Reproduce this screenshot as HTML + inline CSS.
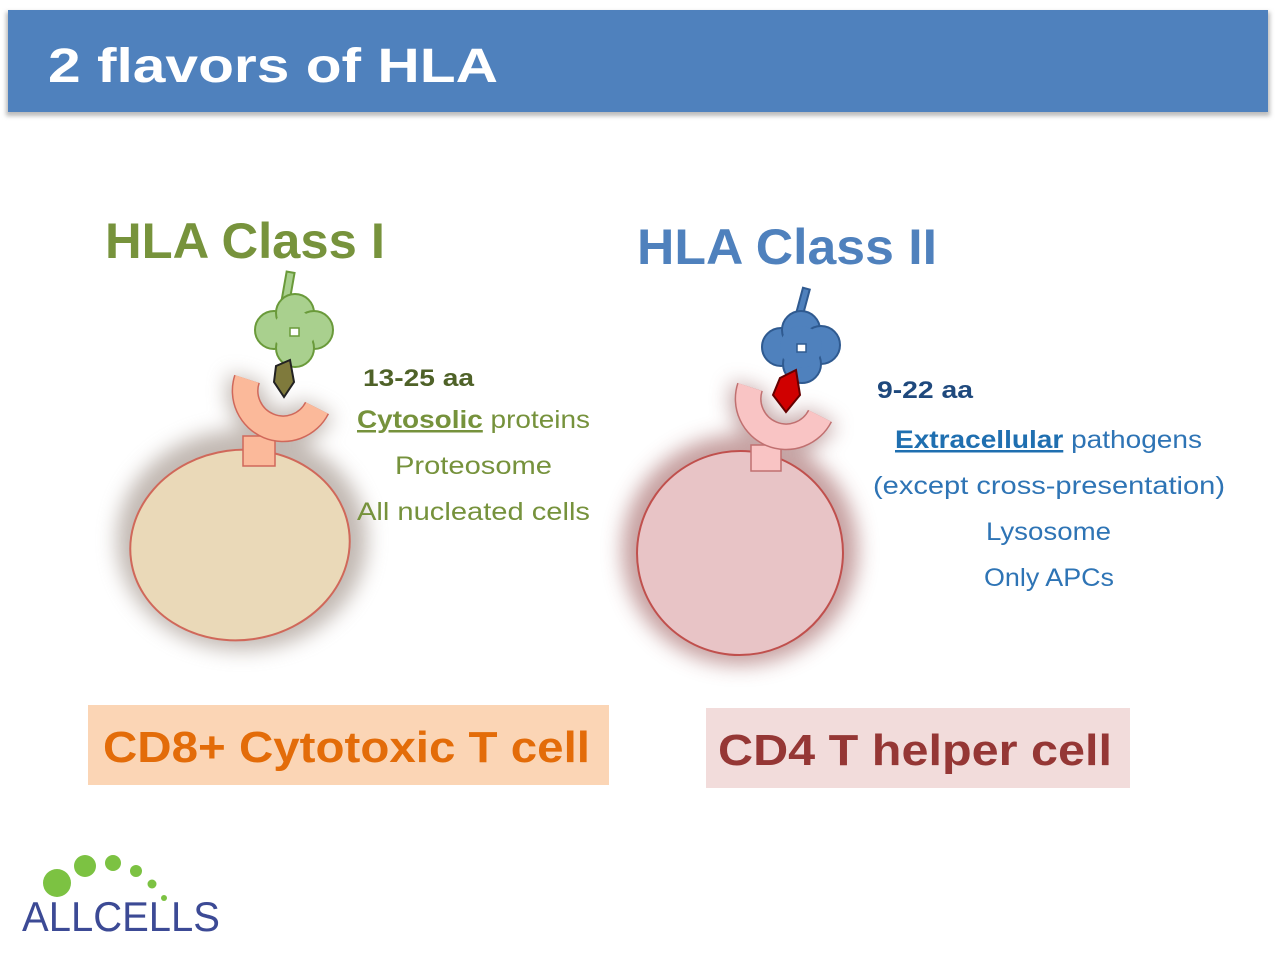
<!DOCTYPE html>
<html><head><meta charset="utf-8"><style>
body{margin:0;width:1280px;height:954px;background:#fff;overflow:hidden;font-family:"Liberation Sans","DejaVu Sans",sans-serif}
svg{display:block}
</style></head><body>
<svg width="1280" height="954" viewBox="0 0 1280 954" xmlns="http://www.w3.org/2000/svg">
<defs>
<filter id="sh" x="-20%" y="-20%" width="140%" height="140%"><feGaussianBlur stdDeviation="2"/></filter>
<filter id="glow" filterUnits="userSpaceOnUse" x="0" y="200" width="1280" height="600"><feGaussianBlur stdDeviation="10"/></filter>
</defs>
<rect x="6" y="12" width="1264" height="104" fill="#bbb" filter="url(#sh)"/>
<rect x="8" y="10" width="1260" height="102" fill="#4f81bd"/>
<text x="48" y="82" font-size="48" font-weight="bold" fill="#fff" textLength="450" lengthAdjust="spacingAndGlyphs">2 flavors of HLA</text>

<text x="105" y="258" font-size="50" font-weight="bold" fill="#77933c" textLength="280" lengthAdjust="spacingAndGlyphs">HLA Class I</text>
<text x="637" y="264" font-size="50" font-weight="bold" fill="#4f81bd" textLength="300" lengthAdjust="spacingAndGlyphs">HLA Class II</text>

<!-- left cell -->
<g filter="url(#glow)" opacity="0.6">
<ellipse cx="242" cy="540" rx="125" ry="110" fill="#9a8a80"/>
<path d="M247,379 A38,38 0 0 0 317,408" stroke="#9a8a80" stroke-width="36" fill="none"/>
</g>
<ellipse cx="240" cy="545" rx="110" ry="95" transform="rotate(-8 240 545)" fill="#ead9b8" stroke="#d0685a" stroke-width="2"/>
<rect x="243" y="436" width="32" height="30" fill="#fbb99a" stroke="#d0685a" stroke-width="1.5"/>
<path d="M247,379 A38,38 0 0 0 317,408" stroke="#d0685a" stroke-width="27" fill="none"/>
<path d="M247,379 A38,38 0 0 0 317,408" stroke="#fbb99a" stroke-width="24" fill="none"/>
<g fill="#a9d08e" stroke="#6a9a3a" stroke-width="2">
<rect x="284" y="272" width="8" height="32" transform="rotate(10 288 287)"/>
<circle cx="274" cy="330" r="19"/><circle cx="295" cy="313" r="19"/><circle cx="314" cy="330" r="19"/><circle cx="295" cy="348" r="19"/>
</g>
<circle cx="294" cy="331" r="21" fill="#a9d08e"/>
<rect x="290" y="328" width="9" height="8" fill="#fff" stroke="#6a9a3a" stroke-width="1.5"/>
<polygon points="276,366 290,360 294,382 284,397 274,382" fill="#7f7a3c" stroke="#222" stroke-width="2"/>

<text x="363" y="386" font-size="24" font-weight="bold" fill="#4f6228" textLength="111" lengthAdjust="spacingAndGlyphs">13-25 aa</text>
<g font-size="25" fill="#76923c">
<text x="357" y="428" textLength="233" lengthAdjust="spacingAndGlyphs"><tspan font-weight="bold" text-decoration="underline">Cytosolic</tspan> proteins</text>
<text x="395" y="474" textLength="157" lengthAdjust="spacingAndGlyphs">Proteosome</text>
<text x="357" y="520" textLength="233" lengthAdjust="spacingAndGlyphs">All nucleated cells</text>
</g>

<!-- right cell -->
<g filter="url(#glow)" opacity="0.6">
<ellipse cx="740" cy="550" rx="118" ry="115" fill="#a06060"/>
<path d="M750,387 A38,38 0 0 0 820,416" stroke="#a07070" stroke-width="36" fill="none"/>
</g>
<ellipse cx="740" cy="553" rx="103" ry="102" transform="rotate(-10 740 553)" fill="#e8c4c6" stroke="#c0504d" stroke-width="2"/>
<rect x="751" y="445" width="30" height="26" fill="#f9c4c4" stroke="#c07070" stroke-width="1.5"/>
<path d="M750,387 A38,38 0 0 0 820,416" stroke="#c07070" stroke-width="27" fill="none"/>
<path d="M750,387 A38,38 0 0 0 820,416" stroke="#f9c4c4" stroke-width="24" fill="none"/>
<g fill="#4f81bd" stroke="#2f5a90" stroke-width="2">
<rect x="799" y="288" width="7" height="32" transform="rotate(15 802 303)"/>
<circle cx="781" cy="347" r="19"/><circle cx="801" cy="330" r="19"/><circle cx="821" cy="345" r="19"/><circle cx="802" cy="364" r="19"/>
</g>
<circle cx="801" cy="347" r="21" fill="#4f81bd"/>
<rect x="797" y="344" width="9" height="8" fill="#fff" stroke="#2f5a90" stroke-width="1.5"/>
<polygon points="780,378 796,370 800,395 786,412 773,395" fill="#d00000" stroke="#600" stroke-width="2"/>

<text x="877" y="398" font-size="24" font-weight="bold" fill="#1f497d" textLength="96" lengthAdjust="spacingAndGlyphs">9-22 aa</text>
<g font-size="25" fill="#2e74b5">
<text x="895" y="448" textLength="307" lengthAdjust="spacingAndGlyphs"><tspan font-weight="bold" text-decoration="underline" fill="#1f6fb0">Extracellular</tspan> pathogens</text>
<text x="873" y="494" textLength="352" lengthAdjust="spacingAndGlyphs">(except cross-presentation)</text>
<text x="986" y="540" textLength="125" lengthAdjust="spacingAndGlyphs">Lysosome</text>
<text x="984" y="586" textLength="130" lengthAdjust="spacingAndGlyphs">Only APCs</text>
</g>

<rect x="88" y="705" width="521" height="80" fill="#fbd5b5"/>
<text x="103" y="762" font-size="44" font-weight="bold" fill="#e36c09" textLength="487" lengthAdjust="spacingAndGlyphs">CD8+ Cytotoxic T cell</text>
<rect x="706" y="708" width="424" height="80" fill="#f2dcdb"/>
<text x="718" y="765" font-size="44" font-weight="bold" fill="#953735" textLength="394" lengthAdjust="spacingAndGlyphs">CD4 T helper cell</text>

<g fill="#7cc242">
<circle cx="57" cy="883" r="14"/><circle cx="85" cy="866" r="11"/><circle cx="113" cy="863" r="8"/><circle cx="136" cy="871" r="6"/><circle cx="152" cy="884" r="4.5"/><circle cx="164" cy="898" r="3"/>
</g>
<text x="22" y="931" font-size="42" fill="#3c4a95" textLength="198" lengthAdjust="spacingAndGlyphs">ALLCELLS</text>
</svg>
</body></html>
